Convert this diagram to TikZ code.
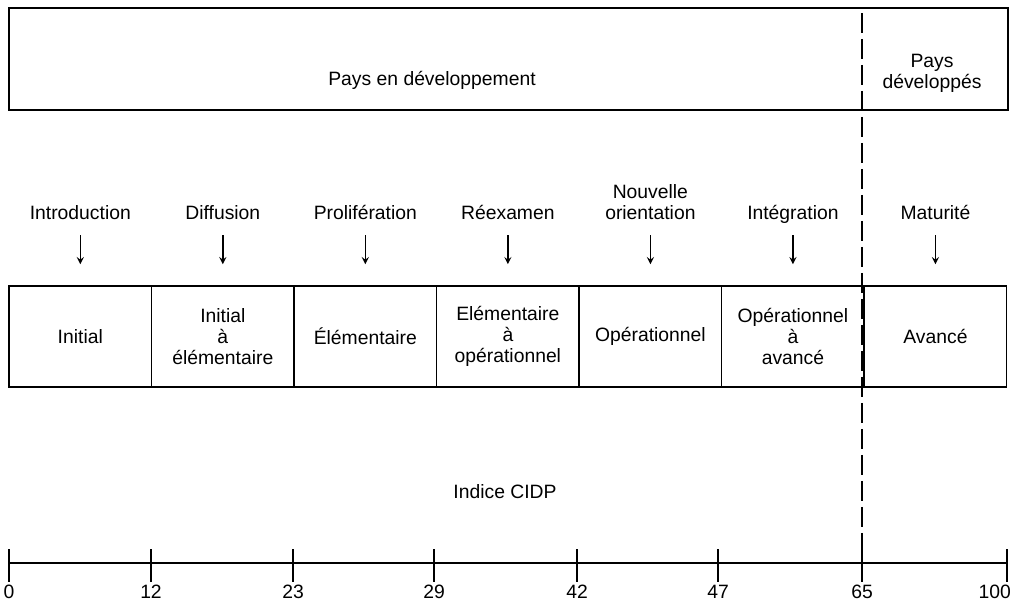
\documentclass[tikz,border=0pt]{standalone}
\usepackage{fontspec}
\setmainfont{Liberation Sans}

\begin{document}
\begin{tikzpicture}[x=0.02cm,y=-0.02cm,>=stealth,line width=0.9pt,node distance=2.851cm,
    every node/.style={font=\fontsize{11}{11.9}\selectfont,align=center},
    box/.style={draw,minimum width=2.851cm,minimum height=2.02cm,inner sep=2pt},
    stage/.style={node distance=2.08cm,anchor=south},
    tick/.style={below,inner sep=1pt,text height=8pt}]
            \useasboundingbox (0,0) rectangle (1013,602);

            % upper band
            \node[draw,minimum width=19.98cm,minimum height=2.04cm] (frame) at (508.5,59) {};
            \node[] (dev) at (432,80) {Pays en développement};
            \node[] (ind) at (932,73) {Pays\\développés};

            % levels
            \node[box] (b1) at (80.3,336.5) {Initial};
            \node[box] (b2) [right of = b1] {Initial\\à\\élémentaire};
            \node[box] (b3) [right of = b2] {Élémentaire};
            \node[box] (b4) [right of = b3] {Elémentaire\\à\\opérationnel};
            \node[box] (b5) [right of = b4] {Opérationnel};
            \node[box] (b6) [right of = b5] {Opérationnel\\à\\avancé};
            \node[box] (b7) [right of = b6] {Avancé};

            % stages
            \node[] (s1) [above of = b1, stage] {Introduction\strut};
            \node[] (s2) [above of = b2, stage] {Diffusion\strut};
            \node[] (s3) [above of = b3, stage] {Prolifération\strut};
            \node[] (s4) [above of = b4, stage] {Réexamen\strut};
            \node[] (s5) [above of = b5, stage] {Nouvelle\\orientation\strut};
            \node[] (s6) [above of = b6, stage] {Intégration\strut};
            \node[] (s7) [above of = b7, stage] {Maturité\strut};

            \path[->,line width=0.8pt,shorten >=0.42cm,shorten <=0.05cm]
                (s1) edge (b1)
                (s2) edge (b2)
                (s3) edge (b3)
                (s4) edge (b4)
                (s5) edge (b5)
                (s6) edge (b6)
                (s7) edge (b7)
                ;

            \node[] (cidp) at (505,492) {Indice CIDP};

            % scale
            \coordinate (a0) at (9,563);
            \coordinate (a100) at (1007,563);
            \draw (a0) -- (a100);
            \draw (9,549) -- (9,582) node[tick] {0};
            \draw (151,549) -- (151,582) node[tick] {12};
            \draw (293,549) -- (293,582) node[tick] {23};
            \draw (434,549) -- (434,582) node[tick] {29};
            \draw (577,549) -- (577,582) node[tick] {42};
            \draw (718,549) -- (718,582) node[tick] {47};
            \draw (862,549) -- (862,582) node[tick] {65};
            \draw (1007,549) -- (1007,582) node[tick,anchor=north east,xshift=0.13cm] {100};

            % frontier
            \coordinate (d1) at (862,13);
            \coordinate (d2) at (862,582);
            \draw[dash pattern=on 0.4cm off 0.12cm] (d1) -- (d2);
        \end{tikzpicture}
\end{document}
